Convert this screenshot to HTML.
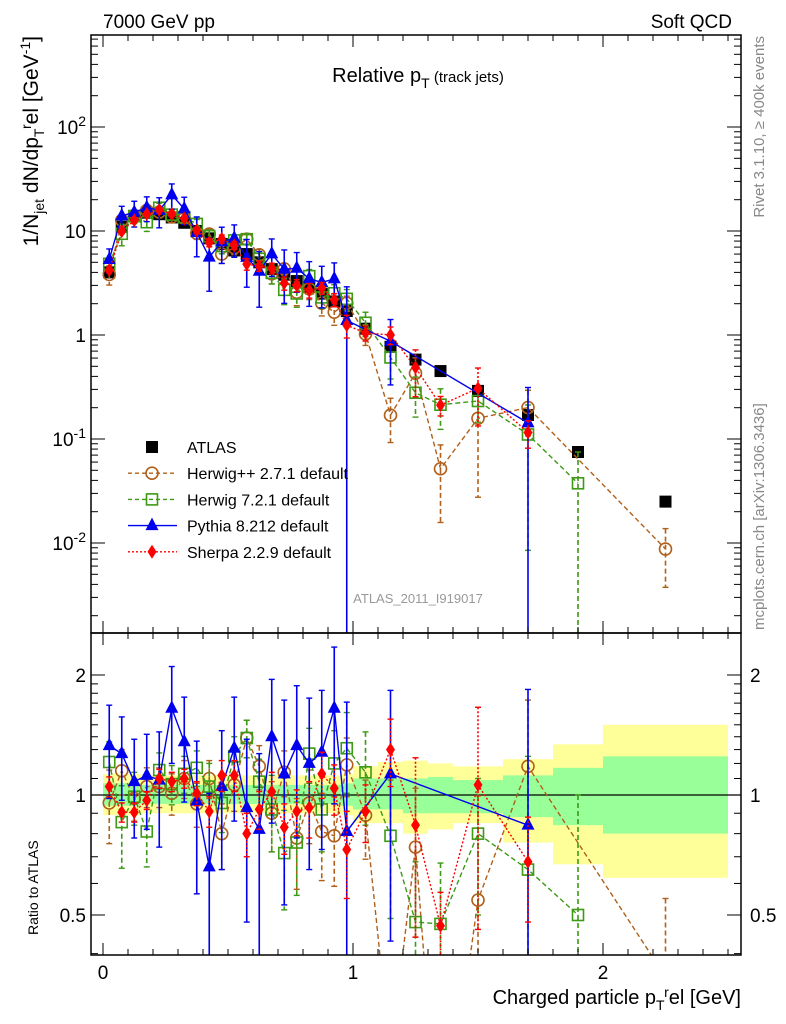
<!DOCTYPE html>
<html><head><meta charset="utf-8">
<style>
html,body{margin:0;padding:0;background:#fff;width:786px;height:1024px;overflow:hidden;}
svg{display:block;font-family:"Liberation Sans",Arial,sans-serif;}
</style></head>
<body>
<svg id="chart" width="786" height="1024" viewBox="0 0 786 1024" xmlns="http://www.w3.org/2000/svg">
<defs>
<clipPath id="cu"><rect x="91" y="35" width="650" height="598"/></clipPath>
<clipPath id="cl"><rect x="91" y="633" width="650" height="322"/></clipPath>
</defs>
<g id="bands" clip-path="url(#cl)"></g>
<g id="lowerMarks" clip-path="url(#cl)"></g>
<g id="upperMarks" clip-path="url(#cu)"></g>
<g id="axes"></g>
<text x="103" y="28" font-size="19">7000 GeV pp</text>
<text x="732" y="28" font-size="19" text-anchor="end">Soft QCD</text>
<text x="418" y="82" font-size="20" text-anchor="middle">Relative p<tspan font-size="14" dy="6">T</tspan><tspan font-size="15" dy="-6"> (track jets)</tspan></text>
<text x="418" y="603" font-size="13" fill="#999" text-anchor="middle">ATLAS_2011_I919017</text>
<text transform="translate(764,36) rotate(-90)" font-size="15" fill="#888" text-anchor="end">Rivet 3.1.10, ≥ 400k events</text>
<text transform="translate(764,630) rotate(-90)" font-size="15" fill="#888">mcplots.cern.ch [arXiv:1306.3436]</text>
<text transform="translate(38,36) rotate(-90)" font-size="21" text-anchor="end">1/N<tspan font-size="14" dy="6">jet</tspan><tspan dy="-6"> dN/dp</tspan><tspan font-size="14" dy="6">T</tspan><tspan font-size="14" dy="-13">r</tspan><tspan dy="7">el [GeV</tspan><tspan font-size="14" dy="-8">-1</tspan><tspan dy="8">]</tspan></text>
<text transform="translate(38,935) rotate(-90)" font-size="14">Ratio to ATLAS</text>
<text x="741" y="1004" font-size="20" text-anchor="end">Charged particle p<tspan font-size="14" dy="6">T</tspan><tspan font-size="14" dy="-13">r</tspan><tspan dy="7">el [GeV]</tspan></text>
<g id="legend"></g>
</svg>
<script>
const xBins = [0.025,0.075,0.125,0.175,0.225,0.275,0.325,0.375,0.425,0.475,0.525,0.575,0.625,0.675,0.725,0.775,0.825,0.875,0.925,0.975,1.05,1.15,1.25,1.35,1.5,1.7,1.9,2.25];
const binLo = [0,0.05,0.1,0.15,0.2,0.25,0.3,0.35,0.4,0.45,0.5,0.55,0.6,0.65,0.7,0.75,0.8,0.85,0.9,0.95,1.0,1.1,1.2,1.3,1.4,1.6,1.8,2.0];
const binHi = [0.05,0.1,0.15,0.2,0.25,0.3,0.35,0.4,0.45,0.5,0.55,0.6,0.65,0.7,0.75,0.8,0.85,0.9,0.95,1.0,1.1,1.2,1.3,1.4,1.6,1.8,2.0,2.5];
const atlas = [4.0,11,14,15,14.5,13.5,12,10,8.5,7.5,6.5,6.0,5.0,4.3,3.8,3.3,2.9,2.5,2.1,1.7,1.15,0.77,0.58,0.45,0.29,0.17,0.075,0.025];
const yellowHi = [1.13,1.13,1.13,1.12,1.12,1.12,1.12,1.12,1.12,1.12,1.12,1.12,1.12,1.12,1.12,1.12,1.12,1.12,1.12,1.13,1.18,1.21,1.22,1.2,1.18,1.23,1.34,1.5];
const yellowLo = [0.89,0.89,0.89,0.9,0.9,0.9,0.9,0.9,0.9,0.9,0.9,0.9,0.9,0.9,0.9,0.9,0.9,0.9,0.9,0.89,0.85,0.85,0.8,0.82,0.85,0.76,0.67,0.62];
const greenHi = [1.07,1.07,1.07,1.06,1.06,1.06,1.06,1.06,1.06,1.06,1.06,1.06,1.06,1.06,1.06,1.06,1.06,1.06,1.06,1.07,1.1,1.1,1.1,1.11,1.09,1.12,1.17,1.25];
const greenLo = [0.94,0.94,0.94,0.95,0.95,0.95,0.95,0.95,0.95,0.95,0.95,0.95,0.95,0.95,0.95,0.95,0.95,0.95,0.95,0.94,0.92,0.92,0.9,0.9,0.9,0.88,0.84,0.8];
// ratios to ATLAS (null = no point)
const herwigpp = [0.955,1.15,0.98,1.05,1.05,1.01,1.10,0.95,1.10,0.80,1.06,1.39,1.18,0.90,1.14,0.78,0.955,0.81,0.79,1.19,0.89,0.22,0.74,0.115,0.545,1.18,null,0.35];
const herwigppErr = [0.2,0.15,0.12,0.12,0.12,0.12,0.12,0.12,0.12,0.15,0.15,0.15,0.15,0.18,0.15,0.2,0.2,0.2,0.2,0.2,0.2,0.1,0.3,0.08,0.45,0.55,null,0.2];
const herwig7 = [1.21,0.855,0.99,0.81,1.155,1.065,1.13,1.17,1.05,0.955,1.25,1.39,1.08,0.92,0.715,0.76,1.27,0.92,1.2,1.31,1.14,0.79,0.48,0.475,0.80,0.65,0.5,null];
const herwig7Err = [0.15,0.2,0.15,0.15,0.12,0.12,0.12,0.12,0.15,0.15,0.15,0.15,0.15,0.2,0.2,0.2,0.2,0.2,0.25,0.3,0.3,0.3,0.2,0.2,0.3,0.6,0.5,null];
const pythia = [1.33,1.27,1.08,1.12,1.09,1.65,1.36,0.965,0.66,1.05,1.31,0.93,0.82,1.40,1.13,1.33,1.20,1.28,1.65,0.81,null,1.13,null,null,null,0.84,null,null];
const pythiaErr = [0.35,0.3,0.3,0.3,0.35,0.45,0.4,0.4,0.35,0.4,0.45,0.45,0.45,0.55,0.6,0.55,0.55,0.55,0.7,0.9,null,0.7,null,null,null,1.0,null,null];
const sherpa = [1.05,0.905,0.905,0.97,1.10,1.08,1.10,1.01,0.91,1.12,1.12,0.80,0.92,1.02,0.83,0.91,0.93,1.13,1.04,0.73,0.91,1.3,0.84,0.47,1.06,0.68,null,null];
const sherpaErr = [0.06,0.05,0.05,0.05,0.06,0.06,0.06,0.07,0.08,0.1,0.1,0.1,0.1,0.12,0.12,0.12,0.15,0.15,0.15,0.18,0.15,0.25,0.4,0.1,0.6,0.2,null,null];
const xTicks = [0,1,2];
const yTicksUpper = [2,1,0,-1,-2];
const ratioTicks = [2,1,0.5];

const NS = "http://www.w3.org/2000/svg";
const X = v => 103 + 250 * v;
const YU = v => 335 - 104 * Math.log10(v);
const YL = v => 795 - 120 * Math.log2(v);
function mk(tag, attrs, parent) {
  const e = document.createElementNS(NS, tag);
  for (const k in attrs) e.setAttribute(k, attrs[k]);
  parent.appendChild(e);
  return e;
}
const bands = document.getElementById('bands');
const lower = document.getElementById('lowerMarks');
const upper = document.getElementById('upperMarks');
const axes = document.getElementById('axes');
const legend = document.getElementById('legend');

for (let i = 0; i < xBins.length; i++) {
  const y = mk('rect', {x: X(binLo[i]), y: YL(yellowHi[i]), width: X(binHi[i]) - X(binLo[i]), height: YL(yellowLo[i]) - YL(yellowHi[i]), fill: '#ffff99'}, bands);
  
  
}
for (let i = 0; i < xBins.length; i++) {
  const g = mk('rect', {x: X(binLo[i]), y: YL(greenHi[i]), width: X(binHi[i]) - X(binLo[i]), height: YL(greenLo[i]) - YL(greenHi[i]), fill: '#99ff99'}, bands);
  
  
}
const ref = mk('line', {x1: 91, x2: 741, y1: YL(1), y2: YL(1), stroke: '#000', 'stroke-width': 1.3}, lower);



function marker(kind, color, cx, cy, parent, name) {
  let m;
  if (kind === 'circle') m = mk('circle', {cx, cy, r: 6, fill: 'none', stroke: color, 'stroke-width': 1.6}, parent);
  else if (kind === 'osquare') m = mk('rect', {x: cx - 5.5, y: cy - 5.5, width: 11, height: 11, fill: 'none', stroke: color, 'stroke-width': 1.6}, parent);
  else if (kind === 'square') m = mk('rect', {x: cx - 6, y: cy - 6, width: 12, height: 12, fill: color}, parent);
  else if (kind === 'tri') m = mk('polygon', {points: `${cx},${cy-8} ${cx-6.5},${cy+4.5} ${cx+6.5},${cy+4.5}`, fill: color}, parent);
  else m = mk('polygon', {points: `${cx},${cy-7} ${cx-4.5},${cy} ${cx},${cy+7} ${cx+4.5},${cy}`, fill: color}, parent);
  
  
  return m;
}

const series = [
  {vals: herwigpp, err: herwigppErr, color: '#b0601a', dash: '5,3', kind: 'circle', name: 'herwigpp'},
  {vals: herwig7, err: herwig7Err, color: '#3c9a14', dash: '5,3', kind: 'osquare', name: 'herwig7'},
  {vals: pythia, err: pythiaErr, color: '#0000ee', dash: null, kind: 'tri', name: 'pythia'},
  {vals: sherpa, err: sherpaErr, color: '#ff0000', dash: '2,2', kind: 'diamond', name: 'sherpa'}
];

for (let i = 0; i < xBins.length; i++) marker('square', '#000', X(xBins[i]), YU(atlas[i]), upper, 'atlas-point');

series.forEach(s => {
  [[upper, i => atlas[i], YU], [lower, i => 1, YL]].forEach(([grp, scale, Y]) => {
    const pts = [];
    for (let i = 0; i < xBins.length; i++) {
      if (s.vals[i] == null) continue;
      const v = s.vals[i] * scale(i);
      const cx = X(xBins[i]);
      pts.push(cx + ',' + Y(v));
      const e = s.err[i] * scale(i);
      const lo = Math.max(v - e, 1e-6);
      const attrs = {x1: cx, x2: cx, y1: Y(v + e), y2: Y(lo), stroke: s.color, 'stroke-width': 1.6};
      if (s.dash) attrs['stroke-dasharray'] = s.dash;
      const eb = mk('line', attrs, grp);
      
      
      [Y(v + e), Y(lo)].forEach(yy => mk('line', {x1: cx - 3, x2: cx + 3, y1: yy, y2: yy, stroke: s.color, 'stroke-width': 1.4}, grp));
    }
    const la = {points: pts.join(' '), fill: 'none', stroke: s.color, 'stroke-width': 1.4};
    if (s.dash) la['stroke-dasharray'] = s.dash;
    const pl = mk('polyline', la, grp);
    
    
    for (let i = 0; i < xBins.length; i++) {
      if (s.vals[i] == null) continue;
      marker(s.kind, s.color, X(xBins[i]), Y(s.vals[i] * scale(i)), grp, s.name + '-point');
    }
  });
});

[[35, 598, 'main-panel-frame'], [633, 322, 'ratio-panel-frame']].forEach(([y, h, n]) => {
  const r = mk('rect', {x: 91, y, width: 650, height: h, fill: 'none', stroke: '#000', 'stroke-width': 1.5}, axes);
  
  
});
for (let k = 0; k <= 2.5001; k += 0.1) {
  const v = Math.round(k * 10) / 10;
  const major = Math.abs(v - Math.round(v)) < 1e-6;
  const L = major ? 12 : 6;
  const px = X(v);
  [[633, -1], [35, 1], [955, -1], [633, 1]].forEach(([y0, d]) => mk('line', {x1: px, x2: px, y1: y0, y2: y0 + d * L, stroke: '#000', 'stroke-width': 1}, axes));
}
xTicks.forEach(v => {
  const t = mk('text', {x: X(v), y: 979, 'font-size': 19, 'text-anchor': 'middle'}, axes);
  t.textContent = String(v);
  
  
});
for (let d = -3; d <= 2; d++) {
  for (let m = 1; m <= 9; m++) {
    const v = m * Math.pow(10, d);
    const py = YU(v);
    if (py < 35 || py > 633) continue;
    const L = m === 1 ? 14 : 7;
    mk('line', {x1: 91, x2: 91 + L, y1: py, y2: py, stroke: '#000'}, axes);
    mk('line', {x1: 741, x2: 741 - L, y1: py, y2: py, stroke: '#000'}, axes);
  }
}
yTicksUpper.forEach(e => {
  const t = mk('text', {x: 86, y: YU(Math.pow(10, e)) + 7, 'font-size': 19, 'text-anchor': 'end'}, axes);
  
  
  if (e === 0) t.textContent = '1';
  else if (e === 1) t.textContent = '10';
  else {
    t.textContent = '10';
    const s = mk('tspan', {'font-size': 14, dy: -8}, t);
    s.textContent = String(e);
  }
});
[0.4,0.5,0.6,0.7,0.8,0.9,1,1.1,1.2,1.3,1.4,1.5,1.6,1.7,1.8,1.9,2].forEach(v => {
  const py = YL(v);
  if (py < 633 || py > 955) return;
  const L = (v === 0.5 || v === 1 || v === 2) ? 14 : 7;
  mk('line', {x1: 91, x2: 91 + L, y1: py, y2: py, stroke: '#000'}, axes);
  mk('line', {x1: 741, x2: 741 - L, y1: py, y2: py, stroke: '#000'}, axes);
});
ratioTicks.forEach(v => {
  const t1 = mk('text', {x: 86, y: YL(v) + 7, 'font-size': 19, 'text-anchor': 'end'}, axes);
  t1.textContent = String(v);
  
  
  const t2 = mk('text', {x: 750, y: YL(v) + 7, 'font-size': 19}, axes);
  t2.textContent = String(v);
  
  
});
const legItems = [
  {label: 'ATLAS', kind: 'square', color: '#000', dash: 'none'},
  {label: 'Herwig++ 2.7.1 default', kind: 'circle', color: '#b0601a', dash: '4,3'},
  {label: 'Herwig 7.2.1 default', kind: 'osquare', color: '#3c9a14', dash: '4,3'},
  {label: 'Pythia 8.212 default', kind: 'tri', color: '#0000ee', dash: null},
  {label: 'Sherpa 2.2.9 default', kind: 'diamond', color: '#ff0000', dash: '2,2'}
];
legItems.forEach((it, i) => {
  const y = 447 + i * 26.2;
  const g = mk('g', {}, legend);
  
  
  if (it.dash !== 'none') {
    const a = {x1: 128, x2: 177, y1: y, y2: y, stroke: it.color, 'stroke-width': 1.4};
    if (it.dash) a['stroke-dasharray'] = it.dash;
    mk('line', a, g);
  }
  marker(it.kind, it.color, 152, y, g, 'legend-marker');
  const t = mk('text', {x: 187, y: y + 6, 'font-size': 16}, g);
  t.textContent = it.label;
});
</script>
</body></html>
